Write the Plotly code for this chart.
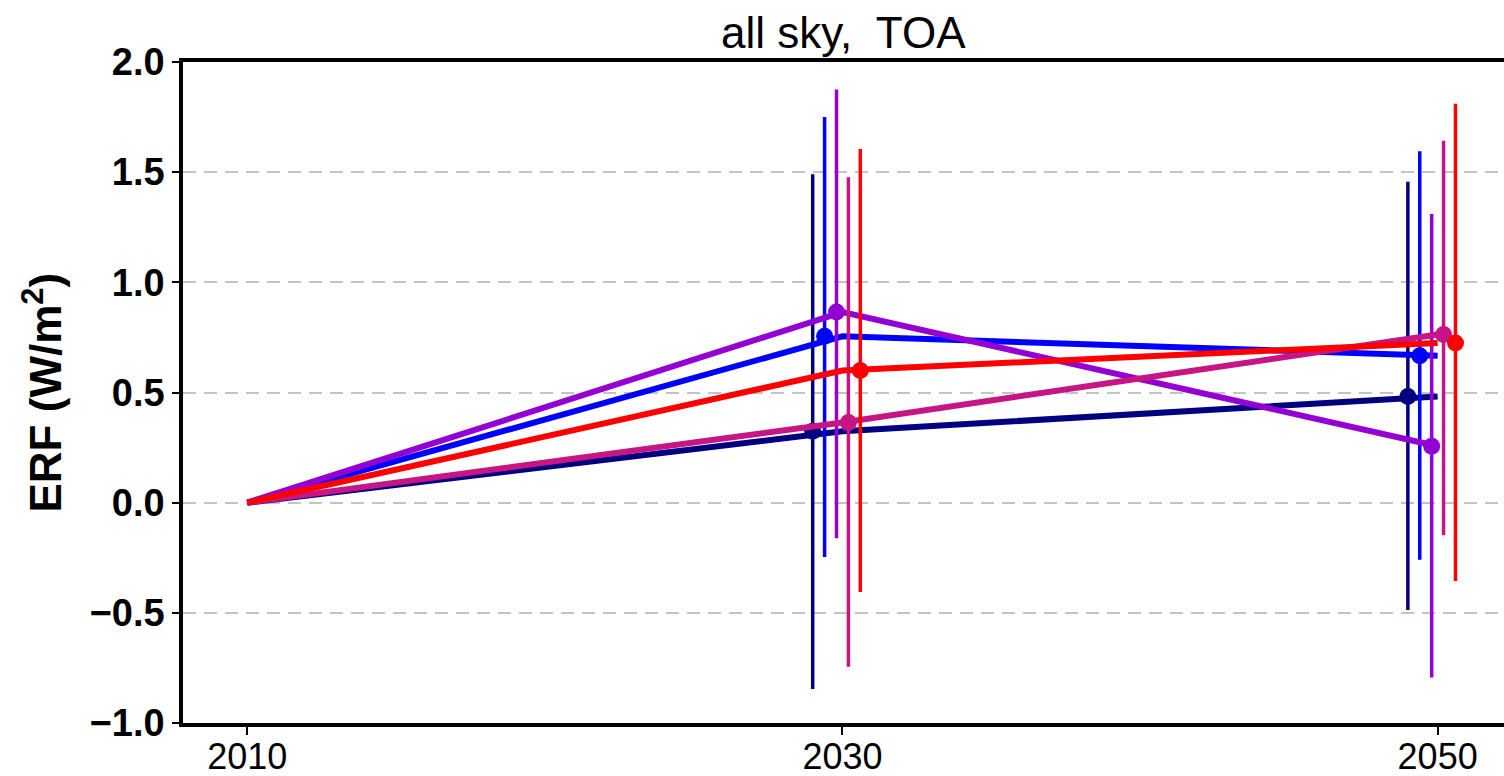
import plotly.graph_objects as go

years = [2010, 2030, 2050]
series_names = ["s1", "s2", "s3", "s4", "s5"]
colors = ["#000080", "#0000FF", "#9400D3", "#C71585", "#FF0000"]
offsets = [-1.0, -0.6, -0.2, 0.2, 0.6]

# ERF values at 2010, 2030, 2050
values = [
    [0.0, 0.324, 0.482],
    [0.0, 0.755, 0.667],
    [0.0, 0.865, 0.256],
    [0.0, 0.364, 0.763],
    [0.0, 0.600, 0.725],
]
# upper / lower ends of the ranges at 2030, 2050
upper = [
    [1.49, 1.456],
    [1.75, 1.595],
    [1.875, 1.31],
    [1.477, 1.643],
    [1.605, 1.81],
]
lower = [
    [-0.846, -0.487],
    [-0.247, -0.259],
    [-0.162, -0.793],
    [-0.745, -0.148],
    [-0.405, -0.355],
]

yticks = [-1.0, -0.5, 0.0, 0.5, 1.0, 1.5, 2.0]
ytick_text = ["\u22121.0", "\u22120.5", "0.0", "0.5", "1.0", "1.5", "2.0"]
xticks = [2010, 2030, 2050]

fig = go.Figure()
for i, name in enumerate(series_names):
    xs = [y + offsets[i] for y in years[1:]]
    ys = values[i][1:]
    ep = [u - v for u, v in zip(upper[i], ys)]
    em = [v - l for l, v in zip(lower[i], ys)]
    fig.add_trace(go.Scatter(
        x=xs, y=ys, mode="markers", name=name, showlegend=False,
        marker=dict(color=colors[i], size=17),
        error_y=dict(type="data", symmetric=False, array=ep, arrayminus=em,
                     color=colors[i], thickness=3.5, width=0),
    ))
    fig.add_trace(go.Scatter(
        x=years, y=values[i], mode="lines", name=name, showlegend=False,
        line=dict(color=colors[i], width=6),
    ))

# the figure is a bit wider than the 1504 px window so the plot area runs off the right edge
fig.update_layout(
    width=1540, height=776,
    margin=dict(l=183, r=0, t=62, b=53, autoexpand=False),
    paper_bgcolor="white", plot_bgcolor="white",
    showlegend=False,
    xaxis=dict(
        range=[2007.84, 2053.44], tickvals=xticks, ticktext=[str(t) for t in xticks],
        showgrid=False, zeroline=False, automargin=False,
        showline=True, linecolor="black", linewidth=3.5, mirror=True,
        ticks="outside", ticklen=8, tickwidth=2, tickcolor="black",
        tickfont=dict(family="Liberation Sans, Arial, sans-serif", size=36, color="black"),
        ticklabelstandoff=-9,
    ),
    yaxis=dict(
        range=[-1.0, 2.0], tickvals=yticks, ticktext=ytick_text,
        showgrid=True, gridcolor="#c4c4c4", gridwidth=2, griddash="13px,8px",
        zeroline=False, automargin=False,
        showline=True, linecolor="black", linewidth=3.5, mirror=False,
        ticks="outside", ticklen=7, tickwidth=2, tickcolor="black",
        tickfont=dict(family="Liberation Sans, Arial, sans-serif", size=38, color="black", weight="bold"),
        ticklabelstandoff=0,
    ),
    annotations=[
        dict(text="all sky,  TOA", xref="paper", yref="paper", x=(843 - 183) / 1357, y=1.0,
             xanchor="center", yanchor="bottom", yshift=3, showarrow=False,
             font=dict(family="Liberation Sans, Arial, sans-serif", size=44, color="black")),
        dict(text="<b>ERF (W/m<sup>2</sup>)</b>", xref="paper", yref="paper",
             x=(42 - 183) / 1357, y=0.5, xanchor="center", yanchor="middle", textangle=-90,
             showarrow=False,
             font=dict(family="Liberation Sans, Arial, sans-serif", size=44, color="black")),
    ],
)

fig.write_html(
    "out.html",
    config={"displayModeBar": False},
    post_script="document.body.style.margin='0px'; document.body.style.overflow='hidden';",
)
